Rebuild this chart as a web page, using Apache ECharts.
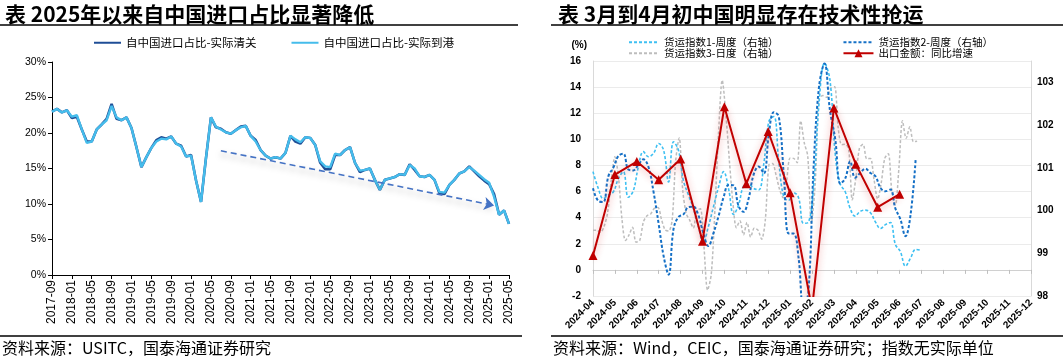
<!DOCTYPE html>
<html><head><meta charset="utf-8">
<script src="https://cdn.jsdelivr.net/npm/echarts@6/dist/echarts.min.js"></script>
<style>html,body{margin:0;padding:0;background:#fff;}#c{width:1063px;height:359px;}</style>
</head><body><div id="c"></div>
<script>
// ---------------- LEFT CHART DATA ----------------
const leftTitle = '表 2025年以来自中国进口占比显著降低';
const leftSeriesNames = ['自中国进口占比-实际清关', '自中国进口占比-实际到港'];
const leftStart = '2017-09', leftEnd = '2025-05';
// share of US imports from China, % (actual clearance)
const clearanceShare = [
  23.0,23.4,22.9,23.2,22.1,22.3,20.5,18.8,18.8,20.5,
  21.2,22.0,24.1,22.0,21.8,22.2,20.7,18.0,15.2,16.6,
  17.9,19.0,19.4,19.2,19.5,18.5,18.2,16.7,16.9,13.3,
  10.3,16.5,22.2,20.8,20.6,20.1,19.9,20.4,20.9,21.0,
  19.6,19.0,17.6,16.8,16.4,16.6,16.4,17.2,19.6,18.8,
  18.5,19.4,19.3,18.3,15.8,14.9,14.9,16.9,16.9,17.6,
  18.0,15.8,14.5,14.8,15.0,13.4,12.0,13.4,13.6,13.8,
  14.2,14.1,15.6,14.8,13.9,13.8,14.1,13.4,11.5,11.4,
  12.7,13.4,14.3,14.6,15.3,14.6,13.9,13.3,12.8,11.4,
  8.5,9.1,7.2
];
// share of US imports from China, % (actual arrival)
const arrivalShare = [
  23.0,23.4,22.9,23.2,22.3,22.5,20.5,18.6,18.8,20.5,
  21.2,21.8,23.8,22.2,21.8,22.2,20.7,18.0,15.2,16.6,
  17.9,18.8,19.2,19.1,19.5,18.5,18.1,16.7,16.8,13.3,
  10.3,16.5,22.2,20.9,20.5,20.1,19.9,20.4,20.8,21.0,
  19.6,18.8,17.6,16.8,16.4,16.6,16.4,17.2,19.6,19.1,
  18.7,19.4,19.3,18.3,16.0,15.3,15.2,17.1,16.9,17.6,
  18.0,15.8,14.7,14.8,15.0,13.4,12.0,13.4,13.6,13.8,
  14.2,14.1,15.5,15.0,13.9,13.8,14.1,13.4,11.7,11.6,
  12.7,13.4,14.3,14.6,15.2,14.7,14.1,13.5,13.0,11.0,
  8.5,9.1,7.2
];
const leftYTicks = {min: 0, max: 30, step: 5};
const trendFrom = ['2020-07', 17.5];
const trendTo = ['2025-02', 9.8];
const leftSource = '资料来源：USITC，国泰海通证券研究';

// ---------------- RIGHT CHART DATA ----------------
const rightTitle = '表 3月到4月初中国明显存在技术性抢运';
const rightStart = '2024-04', rightEnd = '2025-12';
const idx1Name = '货运指数1-周度（右轴）';
const idx2Name = '货运指数2-周度（右轴）';
const idx3Name = '货运指数3-日度（右轴）';
const exportName = '出口金额：同比增速';
// weekly readings starting 2024-04-01
const idx1Start = '2024-04-01', idx1StepDays = 7;
const idx1 = [
  100.91,100.53,100.28,100.36,100.44,100.75,100.91,100.31,100.46,101.01,
  101.38,101.26,101.34,101.57,101.41,100.67,101.61,101.41,100.70,100.37,
  100.05,99.64,99.25,99.62,100.09,100.55,100.91,100.50,99.91,100.13,
  100.57,100.62,100.52,100.48,101.10,102.09,102.20,101.14,100.32,100.24,
  100.42,100.30,99.70,99.73,100.55,102.51,103.45,103.05,101.30,100.62,
  100.44,100.05,99.87,99.98,100.01,99.95,99.73,99.58,99.67,99.72,
  99.21,99.04,98.70,98.89,99.09,99.07
];
const idx2Start = '2024-04-01', idx2StepDays = 7;
const idx2 = [
  100.52,100.23,100.20,100.80,101.01,101.28,101.33,100.96,100.94,101.07,
  101.20,101.02,100.43,99.68,98.93,98.50,99.57,99.85,99.91,100.08,
  100.09,99.90,99.48,99.17,99.47,99.87,100.32,100.60,100.59,100.11,
  99.97,100.27,100.84,101.03,100.87,101.80,102.30,102.20,100.85,99.46,
  99.46,98.89,97.70,98.11,101.00,102.90,103.44,102.34,101.66,100.63,
  100.75,101.15,100.77,100.88,100.98,100.88,100.80,100.53,100.45,100.49,
  100.05,99.80,99.40,99.90,101.20
];
const idx3Start = '2024-04-01', idx3StepDays = 5;
const idx3 = [
  99.54,99.54,99.49,99.62,99.95,100.71,101.26,100.79,99.80,99.30,
  99.43,99.61,99.26,99.30,99.73,99.88,99.92,100.05,100.07,99.79,
  99.55,99.52,99.77,101.16,101.70,100.48,99.93,99.77,99.59,100.00,
  100.04,99.15,98.14,98.51,100.01,101.82,103.05,102.27,101.18,100.19,
  99.60,99.76,99.43,99.72,99.38,99.59,99.54,99.33,99.77,101.07,
  101.10,100.84,100.50,100.30,100.69,101.23,101.22,101.12,102.10,101.59,
  101.27,99.70,100.60,102.60,102.69,102.65,102.87,102.90,101.95,101.54,
  101.55,101.43,100.25,100.75,101.46,101.55,101.21,101.22,100.72,100.27,
  100.65,101.22,101.33,100.46,100.13,100.99,102.10,101.69,101.96,101.61,
  101.62
];
// monthly export growth yoy %, 2024-04 .. 2025-06
const exportYoY = [1.1,7.3,8.3,6.9,8.5,2.2,12.5,6.6,10.6,5.9,-3.0,12.4,8.1,4.8,5.8];
const rightLeftTicks = {min: -2, max: 16, step: 2};
const rightRightTicks = {min: 98, max: 103.5, step: 1};
const rightSource = '资料来源：Wind，CEIC，国泰海通证券研究；指数无实际单位';

// ---------------- helpers ----------------
function monthRange(a, b) {
  let [y, m] = a.split('-').map(Number);
  const [ye, me] = b.split('-').map(Number);
  const out = [];
  while (y < ye || (y === ye && m <= me)) {
    out.push(y + '-' + String(m).padStart(2, '0'));
    m++; if (m > 12) { m = 1; y++; }
  }
  return out;
}
const leftMonths = monthRange(leftStart, leftEnd);
const rightMonths = monthRange(rightStart, rightEnd);
const [baseY, baseM] = rightStart.split('-').map(Number);
function monthPos(d) {
  const y = d.getUTCFullYear(), m = d.getUTCMonth();
  const dim = new Date(Date.UTC(y, m + 1, 0)).getUTCDate();
  return (y - baseY) * 12 + m - (baseM - 1) + (d.getUTCDate() - 1) / dim;
}
function datedSeries(start, stepDays, vals) {
  const t0 = Date.parse(start + 'T00:00:00Z');
  return vals.map((v, i) => [monthPos(new Date(t0 + i * stepDays * 86400000)), v]);
}

const CJK = '"Noto Sans CJK SC","Noto Sans",sans-serif';
const NUM = '"Liberation Sans",Arial,sans-serif';
const noSym = {opacity: 0};

const chart = echarts.init(document.getElementById('c'), null, {renderer: 'canvas'});
const option = {
  animation: false,
  backgroundColor: '#fff',
  title: [
    {text: leftTitle, left: 0, top: -1, textStyle: {fontSize: 21, fontWeight: 'bold', fontFamily: CJK, color: '#000'}},
    {text: rightTitle, left: 553, top: -1, textStyle: {fontSize: 21, fontWeight: 'bold', fontFamily: CJK, color: '#000'}}
  ],
  legend: [
    {data: leftSeriesNames.map(n => ({name: n, itemStyle: noSym})), left: 88, top: 32, itemGap: 34, itemWidth: 27, itemHeight: 12,
     textStyle: {fontSize: 11.5, fontFamily: CJK, color: '#000'}},
    {data: [{name: idx1Name, itemStyle: noSym}, {name: idx2Name, itemStyle: noSym}], left: 623, top: 32, itemGap: 64, itemWidth: 30, itemHeight: 10,
     textStyle: {fontSize: 10.5, fontFamily: CJK, color: '#000'}},
    {data: [{name: idx3Name, itemStyle: noSym}, exportName], left: 623, top: 43, itemGap: 64, itemWidth: 30, itemHeight: 10,
     textStyle: {fontSize: 10.5, fontFamily: CJK, color: '#000'}}
  ],
  grid: [
    {left: 52, top: 62, width: 457, height: 213},
    {left: 593, top: 61, width: 438, height: 235}
  ],
  xAxis: [
    {type: 'category', gridIndex: 0, data: leftMonths, boundaryGap: false,
     axisLine: {lineStyle: {color: '#000', width: 1}},
     axisTick: {show: true, interval: 3, length: 4, lineStyle: {color: '#000'}},
     axisLabel: {interval: 3, rotate: 90, fontSize: 12, fontFamily: NUM, color: '#000', margin: 5}},
    {type: 'category', gridIndex: 1, data: rightMonths, boundaryGap: false,
     axisLine: {lineStyle: {color: '#D0D0D0', width: 1}},
     axisTick: {show: true, length: 4, lineStyle: {color: '#BFBFBF'}},
     axisLabel: {interval: 0, rotate: 45, fontSize: 10, fontWeight: 'bold', fontFamily: NUM, color: '#000', margin: 5}},
    {type: 'value', gridIndex: 1, min: 0, max: rightMonths.length - 1, show: false}
  ],
  yAxis: [
    {type: 'value', gridIndex: 0, min: leftYTicks.min, max: leftYTicks.max, interval: leftYTicks.step,
     axisLine: {show: true, lineStyle: {color: '#000'}},
     axisTick: {show: true, length: 4, lineStyle: {color: '#000'}},
     splitLine: {show: false},
     axisLabel: {formatter: '{value}%', fontSize: 10.5, fontFamily: NUM, color: '#000', margin: 6}},
    {type: 'value', gridIndex: 1, position: 'left', min: rightLeftTicks.min, max: rightLeftTicks.max, interval: rightLeftTicks.step,
     name: '(%)', nameLocation: 'end', nameGap: 11,
     nameTextStyle: {fontSize: 10, fontWeight: 'bold', fontFamily: NUM, color: '#000', align: 'right', padding: [0, 6, 0, 0]},
     axisLine: {show: true, lineStyle: {color: '#D9D9D9'}},
     axisTick: {show: false},
     splitLine: {show: true, lineStyle: {color: '#EBEBEB', width: 1}},
     axisLabel: {fontSize: 10, fontWeight: 'bold', fontFamily: NUM, color: '#000', margin: 12}},
    {type: 'value', gridIndex: 1, position: 'right', min: rightRightTicks.min, max: rightRightTicks.max, interval: rightRightTicks.step,
     axisLine: {show: true, lineStyle: {color: '#D9D9D9'}},
     axisTick: {show: false},
     splitLine: {show: false},
     axisLabel: {fontSize: 10, fontWeight: 'bold', fontFamily: NUM, color: '#000', margin: 6,
       formatter: v => (Math.abs(v - Math.round(v)) < 1e-6 ? String(Math.round(v)) : '')}}
  ],
  series: [
    {name: leftSeriesNames[0], type: 'line', xAxisIndex: 0, yAxisIndex: 0, data: clearanceShare,
     symbol: 'none', color: '#1F4E96', lineStyle: {width: 2.6, color: '#1F4E96'}, z: 2},
    {name: leftSeriesNames[1], type: 'line', xAxisIndex: 0, yAxisIndex: 0, data: arrivalShare,
     symbol: 'none', color: '#45BCEB', lineStyle: {width: 2.4, color: '#45BCEB'}, z: 3,
     markLine: {silent: true, symbol: ['none', 'arrow'], symbolSize: 10, label: {show: false},
       lineStyle: {color: '#4472C4', type: [6, 4], width: 1.6, shadowColor: 'rgba(0,0,0,0.35)', shadowBlur: 6, shadowOffsetY: 4},
       emphasis: {disabled: true},
       data: [[{coord: trendFrom}, {coord: trendTo}]]}},
    {name: idx3Name, type: 'line', xAxisIndex: 2, yAxisIndex: 2, data: datedSeries(idx3Start, idx3StepDays, idx3),
     symbol: 'none', smooth: 0.3, color: '#BDBDBD', lineStyle: {width: 1.5, type: [3, 2], color: '#BDBDBD'}, z: 2},
    {name: idx1Name, type: 'line', xAxisIndex: 2, yAxisIndex: 2, data: datedSeries(idx1Start, idx1StepDays, idx1),
     symbol: 'none', smooth: 0.4, color: '#3EC0F2', lineStyle: {width: 1.6, type: [3, 2], color: '#3EC0F2'}, z: 3},
    {name: idx2Name, type: 'line', xAxisIndex: 2, yAxisIndex: 2, data: datedSeries(idx2Start, idx2StepDays, idx2),
     symbol: 'none', smooth: 0.4, color: '#1570C6', lineStyle: {width: 2, type: [3, 2], color: '#1570C6'}, z: 4},
    {name: exportName, type: 'line', xAxisIndex: 1, yAxisIndex: 1, data: exportYoY,
     symbol: 'triangle', symbolSize: 9, color: '#C00000', itemStyle: {color: '#C00000'},
     lineStyle: {width: 2, color: '#C00000', shadowColor: 'rgba(220,40,40,0.45)', shadowBlur: 7, shadowOffsetY: 2}, z: 6}
  ],
  graphic: [
    {type: 'line', shape: {x1: 0, y1: 25, x2: 518, y2: 25}, style: {stroke: '#404040', lineWidth: 2}},
    {type: 'line', shape: {x1: 551, y1: 25, x2: 1063, y2: 25}, style: {stroke: '#404040', lineWidth: 2}},
    {type: 'line', shape: {x1: 0, y1: 336, x2: 522, y2: 336}, style: {stroke: '#000', lineWidth: 1.5}},
    {type: 'line', shape: {x1: 551, y1: 336, x2: 1063, y2: 336}, style: {stroke: '#000', lineWidth: 1.5}},
    {type: 'text', left: 2, top: 340, style: {text: leftSource, font: '16px ' + CJK, fill: '#000'}},
    {type: 'text', left: 553, top: 340, style: {text: rightSource, font: '16px ' + CJK, fill: '#000'}}
  ]
};
chart.setOption(option);
</script></body></html>
